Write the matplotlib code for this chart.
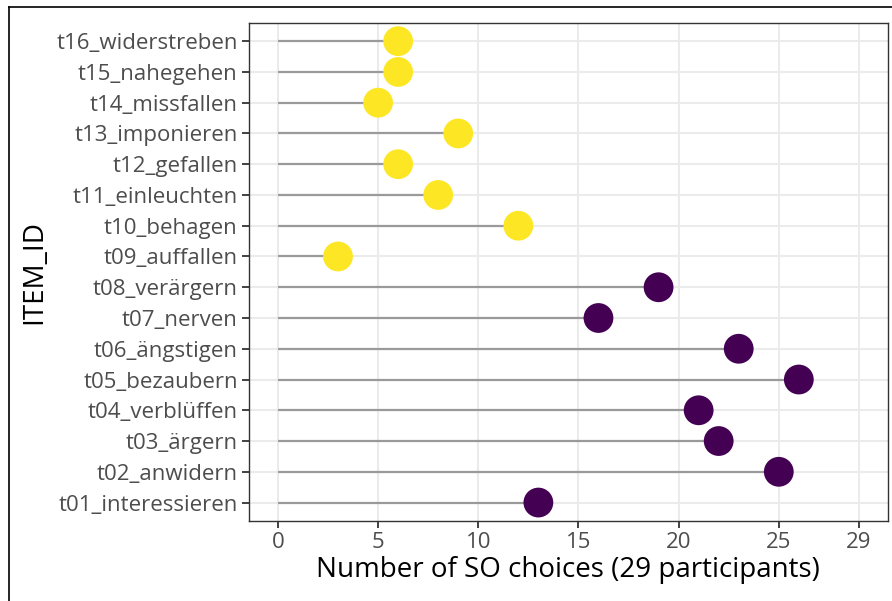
import matplotlib.pyplot as plt
from matplotlib.lines import Line2D

items = ['t01_interessieren', 't02_anwidern', 't03_ärgern', 't04_verblüffen',
         't05_bezaubern', 't06_ängstigen', 't07_nerven', 't08_verärgern',
         't09_auffallen', 't10_behagen', 't11_einleuchten', 't12_gefallen',
         't13_imponieren', 't14_missfallen', 't15_nahegehen', 't16_widerstreben']
so_choices = [13, 25, 22, 21, 26, 23, 16, 19, 3, 12, 8, 6, 9, 5, 6, 6]
groups = ['a'] * 8 + ['b'] * 8
group_colors = {'a': '#440154', 'b': '#FDE725'}
xticks = [0, 5, 10, 15, 20, 25, 29]

plt.rcParams['font.family'] = ['Open Sans', 'DejaVu Sans']

fig = plt.figure(figsize=(8.92, 6.01), dpi=100)
ax = fig.add_axes([0.279, 0.1331, 0.7165, 0.8291])

ypos = list(range(len(items)))
ax.hlines(ypos, 0, so_choices, color='#9a9a9a', linewidth=1.6, zorder=2)
ax.scatter(so_choices, ypos, s=460, c=[group_colors[g] for g in groups],
           zorder=3, linewidths=0)

ax.set_xlim(-1.45, 30.45)
ax.set_ylim(-0.6, len(items) - 0.4)
ax.set_xticks(xticks)
ax.set_xticklabels([str(t) for t in xticks])
ax.set_yticks(ypos)
ax.set_yticklabels(items)

ax.grid(True, color='#ebebeb', linewidth=1.5, zorder=0)
ax.set_axisbelow(True)
for s in ax.spines.values():
    s.set_color('#333333')
    s.set_linewidth(1.0)
ax.tick_params(axis='both', colors='#333333', width=1.3, length=5,
               labelsize=16, labelcolor='#4d4d4d', pad=3)

ax.set_xlabel('Number of SO choices (29 participants)', fontsize=20, labelpad=2)
ax.set_ylabel('ITEM_ID', fontsize=20, labelpad=6)

# screenshot border on top and left
fig.add_artist(Line2D([9 / 892, 1], [1 - 7 / 601, 1 - 7 / 601],
                      transform=fig.transFigure, color='black', linewidth=1.2))
fig.add_artist(Line2D([9 / 892, 9 / 892], [0, 1 - 7 / 601],
                      transform=fig.transFigure, color='black', linewidth=1.2))

fig.savefig('out.png', dpi=100)
